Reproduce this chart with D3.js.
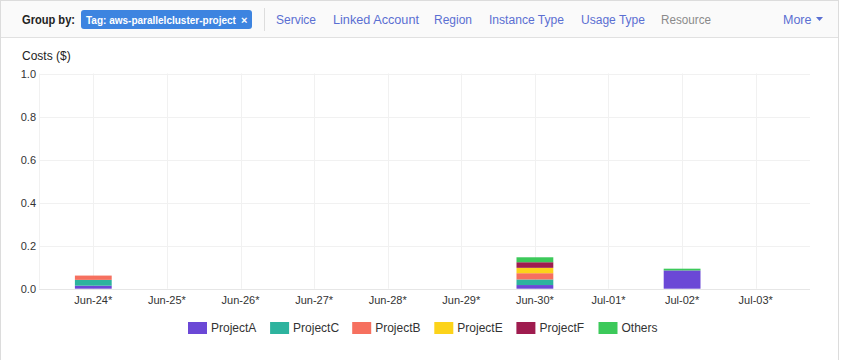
<!DOCTYPE html>
<html><head><meta charset="utf-8">
<script src="https://cdn.jsdelivr.net/npm/d3@7"></script>
<style>
html,body{margin:0;padding:0;background:#fff;}
svg{display:block;font-family:"Liberation Sans",Arial,sans-serif;}
</style></head>
<body><svg id="c" width="844" height="360"></svg>
<script>
const categories = ["Jun-24*","Jun-25*","Jun-26*","Jun-27*","Jun-28*","Jun-29*","Jun-30*","Jul-01*","Jul-02*","Jul-03*"];
const seriesNames = ["ProjectA","ProjectC","ProjectB","ProjectE","ProjectF","Others"];
const ProjectA = [0.014,0,0,0,0,0,0.017,0,0.085,0];
const ProjectC = [0.027,0,0,0,0,0,0.026,0,0,0];
const ProjectB = [0.020,0,0,0,0,0,0.029,0,0,0];
const ProjectE = [0,0,0,0,0,0,0.025,0,0,0];
const ProjectF = [0,0,0,0,0,0,0.026,0,0,0];
const Others   = [0,0,0,0,0,0,0.023,0,0.008,0];
const yTicks = [0,0.2,0.4,0.6,0.8,1.0];
const colors = ["#6b48d6","#2db39e","#f6705f","#fcd31a","#9f1c4f","#3cc95a"];
const menuItems = ["Service","Linked Account","Region","Instance Type","Usage Type","Resource"];

const seriesValues = [ProjectA,ProjectC,ProjectB,ProjectE,ProjectF,Others];
const table = categories.map((c,i)=>{const o={cat:c};seriesNames.forEach((s,j)=>o[s]=seriesValues[j][i]);return o;});

const svg = d3.select("#c");
// outer frame & header
svg.append("rect").attr("x",0.5).attr("y",0.5).attr("width",838).attr("height",370).attr("fill","#fff").attr("stroke","#dcdcdc");
svg.append("rect").attr("x",1).attr("y",1).attr("width",837).attr("height",36).attr("fill","#fafafa");
svg.append("line").attr("x1",1).attr("x2",838).attr("y1",37.5).attr("y2",37.5).attr("stroke","#e1e1e1");
svg.append("text").attr("x",22).attr("y",24).attr("font-size",12.5).attr("font-weight","bold").attr("fill","#222")
  .attr("textLength",53).attr("lengthAdjust","spacingAndGlyphs").text("Group by:");
svg.append("rect").attr("x",81).attr("y",10).attr("width",171).attr("height",19).attr("rx",3).attr("fill","#3d84e0");
svg.append("text").attr("x",86).attr("y",23.5).attr("font-size",10).attr("font-weight","bold").attr("fill","#fff")
  .text("Tag: aws-parallelcluster-project");
svg.append("text").attr("x",241).attr("y",23.5).attr("font-size",11).attr("font-weight","bold").attr("fill","#fff").text("×");
svg.append("line").attr("x1",264.5).attr("x2",264.5).attr("y1",8).attr("y2",31).attr("stroke","#ddd");
const menuX = [276,333,434,489,581,661];
const menuW = [40,86,38,75,64,50];
menuItems.forEach((m,i)=>{
  svg.append("text").attr("x",menuX[i]).attr("y",24).attr("font-size",12.5)
    .attr("textLength",menuW[i]).attr("lengthAdjust","spacingAndGlyphs")
    .attr("fill", m==="Resource" ? "#8a8a8a" : "#5a6fd2").text(m);
});
svg.append("text").attr("x",783).attr("y",24).attr("font-size",12.5).attr("fill","#5a6fd2").text("More");
svg.append("path").attr("d","M816,17 l7,0 l-3.5,4 z").attr("fill","#5a6fd2");

// chart
const x = d3.scaleBand().domain(categories).range([56.5,792.5]).paddingInner(0.5).paddingOuter(0.25);
const y = d3.scaleLinear().domain([0,1]).range([288.7,73.5]);
const plotL = 39, plotR = 810;

const grid = svg.append("g");
grid.selectAll(".h").data(yTicks).join("line")
  .attr("x1",plotL).attr("x2",plotR).attr("y1",d=>Math.round(y(d))+0.5).attr("y2",d=>Math.round(y(d))+0.5)
  .attr("stroke",d=>d===0?"#e6e6e6":"#f1f1f1");
grid.append("line").attr("x1",plotL+0.5).attr("x2",plotL+0.5).attr("y1",y(1)).attr("y2",y(0)).attr("stroke","#f1f1f1");
grid.selectAll(".v").data(categories).join("line")
  .attr("x1",d=>Math.round(x(d)+x.bandwidth()/2)+0.5).attr("x2",d=>Math.round(x(d)+x.bandwidth()/2)+0.5)
  .attr("y1",y(1)).attr("y2",y(0)).attr("stroke","#f1f1f1");

const yAxis = svg.append("g").attr("transform","translate(38,0)")
  .call(d3.axisLeft(y).tickValues(yTicks).tickFormat(d3.format(".1f")).tickSize(0).tickPadding(2));
yAxis.select(".domain").remove();
yAxis.selectAll("text").attr("font-size",11).attr("fill","#333").attr("font-family","'Liberation Sans',Arial,sans-serif");

const xAxis = svg.append("g").attr("transform","translate(0,"+y(0)+")")
  .call(d3.axisBottom(x).tickSize(0).tickPadding(8));
xAxis.select(".domain").remove();
xAxis.selectAll("text").attr("font-size",11).attr("fill","#333").attr("font-family","'Liberation Sans',Arial,sans-serif");

svg.append("text").attr("x",22).attr("y",60).attr("font-size",12).attr("fill","#222").text("Costs ($)");

const stack = d3.stack().keys(seriesNames)(table);
svg.append("g").selectAll("g").data(stack).join("g").attr("fill",(d,i)=>colors[i])
  .selectAll("rect").data(d=>d).join("rect")
  .attr("x",d=>x(d.data.cat)).attr("width",x.bandwidth())
  .attr("y",d=>y(d[1])).attr("height",d=>Math.max(0,y(d[0])-y(d[1])));

// legend
const lg = svg.append("g");
seriesNames.forEach((s,i)=>{
  const lx = 188 + i*82.1;
  lg.append("rect").attr("x",lx).attr("y",322).attr("width",19).attr("height",12).attr("fill",colors[i]);
  lg.append("text").attr("x",lx+23).attr("y",332).attr("font-size",12).attr("fill","#333").text(s);
});
</script></body></html>
